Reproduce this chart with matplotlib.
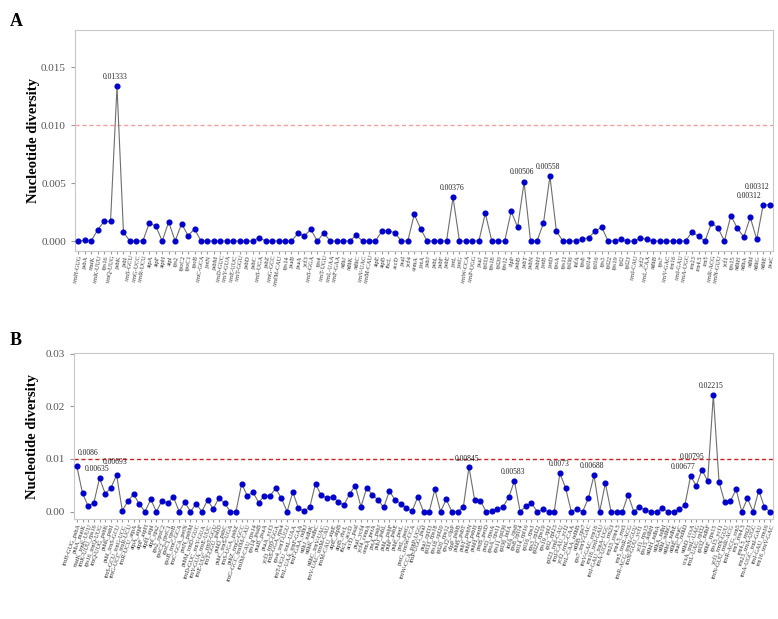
import matplotlib.pyplot as plt
import numpy as np

plt.rcParams["font.family"] = ["Liberation Serif", "DejaVu Serif"]

# gene order (panel A) and extra genes closing the circle (used for panel B spacers)
genes_a = [
    "trnH-GUG", "psbA", "matK", "trnK-UUU", "rps16", "trnQ-UUG", "psbK", "psbI",
    "trnS-GCU", "trnG-UCC", "trnR-UCU", "atpA", "atpF", "atpH", "atpI", "rps2",
    "rpoC2", "rpoC1", "rpoB", "trnC-GCA", "petN", "psbM", "trnD-GUC", "trnY-GUA",
    "trnE-UUC", "trnT-GGU", "psbD", "psbC", "trnS-UGA", "psbZ", "trnG-GCC",
    "trnfM-CAU", "rps14", "psaB", "psaA", "ycf3", "trnS-GGA", "rps4", "trnT-UGU",
    "trnL-UAA", "trnF-GAA", "ndhJ", "ndhK", "ndhC", "trnV-UAC", "trnM-CAU",
    "atpE", "atpB", "rbcL", "accD", "psaI", "ycf4", "cemA", "petA", "psbJ",
    "psbL", "psbF", "psbE", "petL", "petG", "trnW-CCA", "trnP-UGG", "psaJ",
    "rpl33", "rps18", "rpl20", "rps12", "clpP", "psbB", "psbT", "psbN", "psbH",
    "petB", "petD", "rpoA", "rps11", "rpl36", "infA", "rps8", "rpl14", "rpl16",
    "rps3", "rpl22", "rps19", "rpl2", "rpl23", "trnI-CAU", "ycf2", "trnL-CAA",
    "ndhB", "rps7", "trnV-GAC", "rrn16", "trnI-GAU", "trnA-UGC", "rrn23",
    "rrn4.5", "rrn5", "trnR-ACG", "trnN-GUU", "ycf1", "rps15", "ndhH", "ndhA",
    "ndhI", "ndhG", "ndhE", "psaC",
]
genes_extra = [
    "ndhD", "ccsA", "trnL-UAG", "rpl32", "ndhF", "rps15", "ycf1", "trnN-GUU",
    "trnR-ACG", "rrn5", "rrn4.5", "rrn23", "trnA-UGC", "trnI-GAU", "rrn16",
    "trnV-GAC",
]

pi_a = [
    0.0, 0.00005, 0.0, 0.00095, 0.0017, 0.0017, 0.01333, 0.00075, 0.0, 0.0,
    0.0, 0.00155, 0.0013, 0.0, 0.00165, 0.0, 0.0015, 0.00045, 0.00105, 0.0,
    0.0, 0.0, 0.0, 0.0, 0.0, 0.0, 0.0, 0.0, 0.0003, 0.0,
    0.0, 0.0, 0.0, 0.0, 0.00065, 0.00045, 0.001, 0.0, 0.0007, 0.0,
    0.0, 0.0, 0.0, 0.0005, 0.0, 0.0, 0.0, 0.00085, 0.0009, 0.0007,
    0.0, 0.0, 0.0023, 0.00105, 0.0, 0.0, 0.0, 0.0, 0.00376, 0.0,
    0.0, 0.0, 0.0, 0.0024, 0.0, 0.0, 0.0, 0.00255, 0.0012, 0.00506,
    0.0, 0.0, 0.00155, 0.00558, 0.00085, 0.0, 0.0, 0.0, 0.00015, 0.0003,
    0.00085, 0.0012, 0.0, 0.0, 0.00015, 0.0, 0.0, 0.00025, 0.00015, 0.0,
    0.0, 0.0, 0.0, 0.0, 0.0, 0.0008, 0.0004, 0.0, 0.00155, 0.00115,
    0.0, 0.0022, 0.0011, 0.00035, 0.00205, 0.00015, 0.00312, 0.00312,
]

pi_b = [
    0.0086, 0.0035, 0.001, 0.0017, 0.00635, 0.0034, 0.0045, 0.00693, 0.0002, 0.002,
    0.0033, 0.0014, 0.0, 0.0023, 0.0, 0.0021, 0.0016, 0.0028, 0.0, 0.0018,
    0.0, 0.0015, 0.0, 0.0022, 0.0005, 0.0026, 0.0016, 0.0, 0.0, 0.0053,
    0.003, 0.0037, 0.0017, 0.003, 0.003, 0.0044, 0.0025, 0.0, 0.0037, 0.0006,
    0.0001, 0.0009, 0.0053, 0.0031, 0.0026, 0.0028, 0.0019, 0.0012, 0.0034, 0.0049,
    0.0009, 0.0045, 0.0032, 0.0022, 0.0008, 0.0039, 0.0022, 0.0015, 0.0006, 0.0001,
    0.0028, 0.0, 0.0, 0.0042, 0.0, 0.0023, 0.0, 0.0, 0.0008, 0.00845,
    0.0022, 0.0021, 0.0, 0.0001, 0.0004, 0.0009, 0.0027, 0.00583, 0.0, 0.001,
    0.0016, 0.0, 0.0004, 0.0, 0.0, 0.0073, 0.0045, 0.0, 0.0005, 0.0,
    0.0025, 0.00688, 0.0, 0.0054, 0.0, 0.0, 0.0, 0.0032, 0.0, 0.0009,
    0.0003, 0.0, 0.0, 0.0006, 0.0, 0.0, 0.0004, 0.0013, 0.00677, 0.0049,
    0.00795, 0.0058, 0.02215, 0.0056, 0.0018, 0.002, 0.0042, 0.0, 0.0025, 0.0,
    0.004, 0.0008, 0.0,
]

# labelled peaks: index -> text offset in pixels
peaks_a = {6: (-2, 5), 58: (-1, 5), 69: (-2, 6), 73: (-2, 5), 106: (-14, 5), 107: (-13, 14)}
peaks_b = {0: (11, 9), 4: (-2, 5), 7: (-1, 9), 69: (-2, 4), 77: (-1, 5), 85: (-1, 5),
           91: (-2, 5), 108: (-7, 5), 110: (-10, 9), 112: (-2, 5)}

order_b = genes_a + genes_extra
labels_b = [f"{a}_{b}" for a, b in zip(order_b[:-1], order_b[1:])][: len(pi_b)]


def panel(ax, labels, values, peaks, yticks, fmt, ylim, hcolor, hstyle, rot, tfs):
    x = np.arange(len(values))
    ax.plot(x, values, color="#6e6e6e", lw=0.8, zorder=2)
    ax.plot(x, values, "o", color="#0000cc", ms=3.4, zorder=3)
    ax.axhline(0.01, color=hcolor, ls=hstyle, lw=1.0, zorder=1)
    for i, (dx, dy) in peaks.items():
        ax.annotate(f"{values[i]:g}", (i, values[i]), xytext=(dx, dy),
                    textcoords="offset pixels", ha="center", va="bottom",
                    fontsize=5.5, color="#222222")
    ax.set_xlim(-0.5, len(values) - 0.5)
    ax.set_ylim(*ylim)
    ax.set_yticks(yticks)
    ax.set_yticklabels([fmt.format(v) for v in yticks], fontsize=8, color="#555555")
    ax.set_xticks(x)
    ax.set_xticklabels(labels, rotation=rot, ha="right", rotation_mode="anchor",
                       fontsize=tfs, color="#333333")
    ax.tick_params(axis="x", length=2, color="#999999", pad=1)
    ax.tick_params(axis="y", length=3, color="#999999")
    for s in ax.spines.values():
        s.set_color("#c8c8c8")
        s.set_linewidth(0.8)
    ax.set_ylabel("Nucleotide diversity", fontsize=10.5, fontweight="bold")
    ax.yaxis.set_label_coords(-0.05, 0.5)


fig = plt.figure(figsize=(7.78, 6.19), dpi=100)
ax_a = fig.add_axes([0.0964, 0.5945, 0.897, 0.357])
ax_b = fig.add_axes([0.0951, 0.1616, 0.8985, 0.268])

panel(ax_a, genes_a, pi_a, peaks_a, [0, 0.005, 0.01, 0.015], "{:.3f}",
      (-0.00086, 0.0182), "#f4a0a0", (0, (3, 2)), 80, 4.5)
panel(ax_b, labels_b, pi_b, peaks_b, [0, 0.01, 0.02, 0.03], "{:.2f}",
      (-0.0014, 0.0301), "#cc2222", (0, (3, 2)), 70, 4.6)

fig.text(0.012, 0.965, "A", fontsize=13, fontweight="bold", va="center")
fig.text(0.012, 0.45, "B", fontsize=13, fontweight="bold", va="center")

fig.savefig("out.png", dpi=100)
